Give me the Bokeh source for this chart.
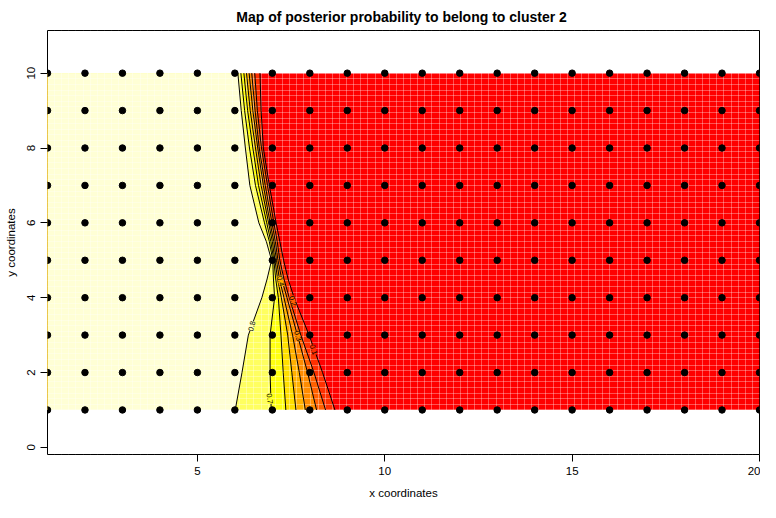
import numpy as np
from bokeh.plotting import figure
from bokeh.models import Range1d, FixedTicker
from bokeh.embed import file_html
from bokeh.resources import INLINE
from bokeh.core.properties import value

FONT = "Liberation Sans"

# observation sites
site_x = list(range(1, 21))
site_y = list(range(1, 11))

# extent of the probability map
img_x = [1, 20]
img_y = [1, 10]

# contour levels and x position where each level crosses each row
levels = [0.1, 0.2, 0.3, 0.4, 0.5, 0.6, 0.7, 0.8]
rows_y = [1, 2, 3, 4, 4.5, 5, 5.5, 6, 7, 8, 9, 10]
c01 = [8.67, 8.34, 7.98, 7.58, 7.42, 7.30, 7.20, 7.10, 6.92, 6.76, 6.70, 6.67]
c02 = [8.42, 8.11, 7.76, 7.45, 7.31, 7.20, 7.13, 7.04, 6.87, 6.71, 6.60, 6.53]
c03 = [8.18, 7.94, 7.67, 7.39, 7.25, 7.15, 7.08, 6.99, 6.81, 6.65, 6.54, 6.45]
c04 = [7.88, 7.72, 7.54, 7.31, 7.19, 7.11, 7.04, 6.94, 6.76, 6.61, 6.48, 6.38]
c05 = [7.63, 7.52, 7.41, 7.24, 7.14, 7.07, 7.00, 6.90, 6.70, 6.55, 6.41, 6.31]
c06 = [7.36, 7.29, 7.23, 7.16, 7.09, 7.04, 6.96, 6.85, 6.63, 6.48, 6.34, 6.24]
c07 = [6.97, 6.94, 6.94, 7.06, 7.03, 7.01, 6.92, 6.79, 6.55, 6.39, 6.26, 6.16]
c08 = [6.01, 6.19, 6.36, 6.72, 6.86, 6.98, 6.84, 6.64, 6.40, 6.28, 6.17, 6.08]
contour_x = [c01, c02, c03, c04, c05, c06, c07, c08]

# contour labels
lab_text = ["0.8", "0.7", "0.4", "0.2", "0.3", "0.1"]
lab_x = [6.45, 6.93, 7.22, 7.55, 7.68, 8.10]
lab_y = [3.24, 1.30, 4.44, 3.91, 2.98, 2.61]

# colours (heat palette), lowest band first
base_color = "#FF0000"
band_colors = ["#FF3000", "#FF6000", "#FF8C00", "#FFB000",
               "#FFDF00", "#FFFF10", "#FFFF60", "#FFFFD5"]
lab_angle = [1.33, -1.45, -1.32, -1.28, -1.28, -1.25]
lab_bg = ["#FFFFB0", "#FFFF30", "#FFB000", "#FF6000", "#FF8C00", "#FF3000"]

TITLE = "Map of posterior probability to belong to cluster  2"

p = figure(width=760, height=502,
           x_range=Range1d(1, 20), y_range=Range1d(-0.19, 11.14),
           output_backend="svg", toolbar_location=None,
           min_border_left=47, min_border_right=1,
           min_border_top=28, min_border_bottom=48,
           title=TITLE)

p.background_fill_color = "white"
p.border_fill_color = "white"
p.outline_line_color = "black"
p.outline_line_width = 1

# image area: base rectangle then nested bands
r = p.patches(xs=[[img_x[0], img_x[1], img_x[1], img_x[0]]],
              ys=[[img_y[0], img_y[0], img_y[1], img_y[1]]],
              fill_color=base_color, line_color=None)
r.level = "image"
band_xs, band_ys = [], []
for cx in contour_x:
    band_xs.append([img_x[0]] + cx + [img_x[0]])
    band_ys.append([rows_y[0]] + rows_y + [rows_y[-1]])
r2 = p.patches(xs=band_xs, ys=band_ys, fill_color=band_colors, line_color=None)
r2.level = "image"

# contour lines
p.multi_line(xs=contour_x, ys=[rows_y] * len(contour_x),
             line_color="black", line_width=1)

p.text(x=lab_x, y=lab_y, text=lab_text, angle=lab_angle,
       text_font=value(FONT), text_font_size="7.5px",
       text_align="center", text_baseline="middle", text_color="black",
       background_fill_color=lab_bg)

# observation sites
gx, gy = np.meshgrid(site_x, site_y)
p.scatter(x=gx.ravel(), y=gy.ravel(), size=6.5, color="black")

# rendering seams of the image cells
p.xgrid.ticker = FixedTicker(ticks=list(np.linspace(img_x[0], img_x[1], 101)))
p.ygrid.ticker = FixedTicker(ticks=list(np.linspace(img_y[0], img_y[1], 61)))
p.grid.grid_line_color = "white"
p.grid.grid_line_alpha = 0.32
p.grid.grid_line_width = 1

# axes
p.xaxis.ticker = FixedTicker(ticks=[5, 10, 15, 20])
p.yaxis.ticker = FixedTicker(ticks=[0, 2, 4, 6, 8, 10])
p.xaxis.axis_label = "x coordinates"
p.yaxis.axis_label = "y coordinates"
p.yaxis.major_label_orientation = "vertical"
for ax in (p.xaxis, p.yaxis):
    ax.axis_line_color = None
    ax.major_tick_line_color = "black"
    ax.major_tick_out = 7
    ax.major_tick_in = 0
    ax.minor_tick_line_color = None
    ax.major_label_text_font = FONT
    ax.major_label_text_font_size = "11.5px"
    ax.major_label_text_color = "black"
    ax.major_label_standoff = 5
    ax.axis_label_text_font = FONT
    ax.axis_label_text_font_size = "11.5px"
    ax.axis_label_text_font_style = "normal"
    ax.axis_label_text_color = "black"
p.xaxis.axis_label_standoff = 9
p.yaxis.axis_label_standoff = 8

p.title.align = "center"
p.title.text_font = FONT
p.title.text_font_size = "14px"
p.title.text_font_style = "bold"
p.title.text_color = "black"
p.title.standoff = 12

open("out.html", "w").write(file_html(p, INLINE))
